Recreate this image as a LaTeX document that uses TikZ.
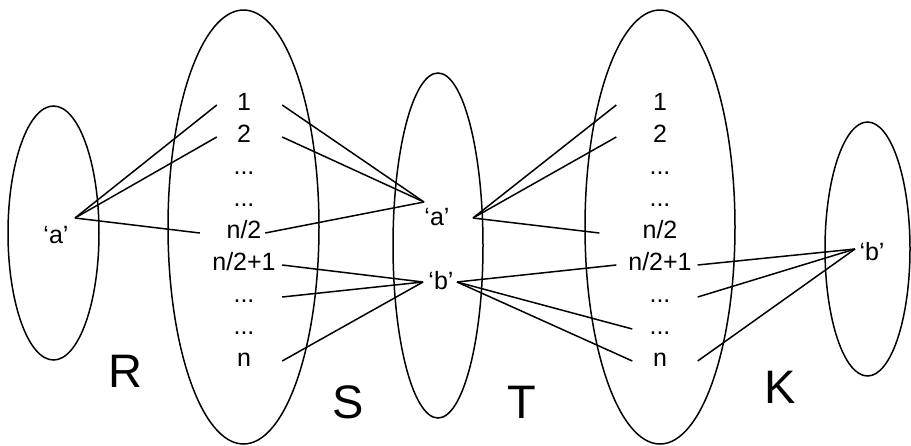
\documentclass[tikz,border=0pt]{standalone}
\usepackage{fontspec}
\setmainfont{Liberation Sans}
\usetikzlibrary{shapes.geometric}
\begin{document}
\begin{tikzpicture}[x=1pt,y=-1pt,
  setshape/.style={draw, ellipse, line width=1.5pt, inner sep=0pt},
  lbl/.style={anchor=base, inner sep=0pt, text height=15pt, text depth=5pt, font=\fontsize{25}{30}\selectfont},
  cola/.style={lbl, minimum width=66pt},
  colb/.style={lbl, minimum width=81pt},
  big/.style={anchor=base, inner sep=0pt, font=\fontsize{47}{54}\selectfont},
  link/.style={line width=1.5pt}]
\useasboundingbox (0,0) rectangle (911,445);

% sets
\node[setshape, minimum width=91pt, minimum height=254pt] (R) at (53.5,233) {};
\node[setshape, minimum width=151pt, minimum height=434pt] (S) at (243.5,227) {};
\node[setshape, minimum width=90pt, minimum height=345pt] (T) at (438,245.5) {};
\node[setshape, minimum width=150pt, minimum height=434pt] (U) at (660,227) {};
\node[setshape, minimum width=85pt, minimum height=254pt] (K) at (867.5,249) {};

% set names
\node[big] (nR) at (125,387) {R};
\node[big] (nS) at (348,418) {S};
\node[big] (nT) at (522,418) {T};
\node[big] (nK) at (780,403) {K};

% values
\node[lbl] (Ra) at (56,243) {‘a’};
\node[lbl] (Ta) at (437,225) {‘a’};
\node[lbl] (Tb) at (441,289) {‘b’};
\node[lbl] (Kb) at (872,260) {‘b’};

% column in S
\node[cola] (s1) at (244,110) {1};
\node[cola] (s2) at (244,142) {2};
\node[cola] (s3) at (244,174) {...};
\node[cola] (s4) at (244,206) {...};
\node[cola] (s5) at (244,238) {n/2};
\node[cola] (s6) at (244,270) {n/2+1};
\node[cola] (s7) at (244,302) {...};
\node[cola] (s8) at (244,334) {...};
\node[cola] (s9) at (244,366) {n};

% column in the second big set
\node[colb] (t1) at (660,110) {1};
\node[colb] (t2) at (660,142) {2};
\node[colb] (t3) at (660,174) {...};
\node[colb] (t4) at (660,206) {...};
\node[colb] (t5) at (660,238) {n/2};
\node[colb] (t6) at (660,270) {n/2+1};
\node[colb] (t7) at (660,302) {...};
\node[colb] (t8) at (660,334) {...};
\node[colb] (t9) at (660,366) {n};

% meeting points
\coordinate (ra) at (75,218);
\coordinate (taL) at (424,202);
\coordinate (taR) at (473,218);
\coordinate (tbL) at (423,282);
\coordinate (tbR) at (457,282);
\coordinate (kb) at (855,249);

% R - S
\draw[link] (ra) -- ([xshift=6pt]s1.west);
\draw[link] (ra) -- ([xshift=6pt]s2.west);
\draw[link] (ra) -- ([xshift=-11pt]s5.west);
% S - T
\draw[link] ([xshift=5pt]s1.east) -- (taL);
\draw[link] ([xshift=5pt]s2.east) -- (taL);
\draw[link] ([xshift=-12pt]s5.east) -- (taL);
\draw[link] ([xshift=5pt]s6.east) -- (tbL);
\draw[link] ([xshift=5pt]s7.east) -- (tbL);
\draw[link] ([xshift=5pt]s9.east) -- (tbL);
% T - second set
\draw[link] (taR) -- ([xshift=-3pt]t1.west);
\draw[link] (taR) -- ([xshift=-3pt]t2.west);
\draw[link] (taR) -- ([xshift=-20pt]t5.west);
\draw[link] (tbR) -- ([xshift=-3pt]t6.west);
\draw[link] (tbR) -- ([xshift=13pt]t8.west);
\draw[link] (tbR) -- ([xshift=13pt]t9.west);
% second set - K
\draw[link] ([xshift=-3pt]t6.east) -- (kb);
\draw[link] ([xshift=-3pt]t7.east) -- (kb);
\draw[link] ([xshift=-3pt]t9.east) -- (kb);
\end{tikzpicture}
\end{document}
